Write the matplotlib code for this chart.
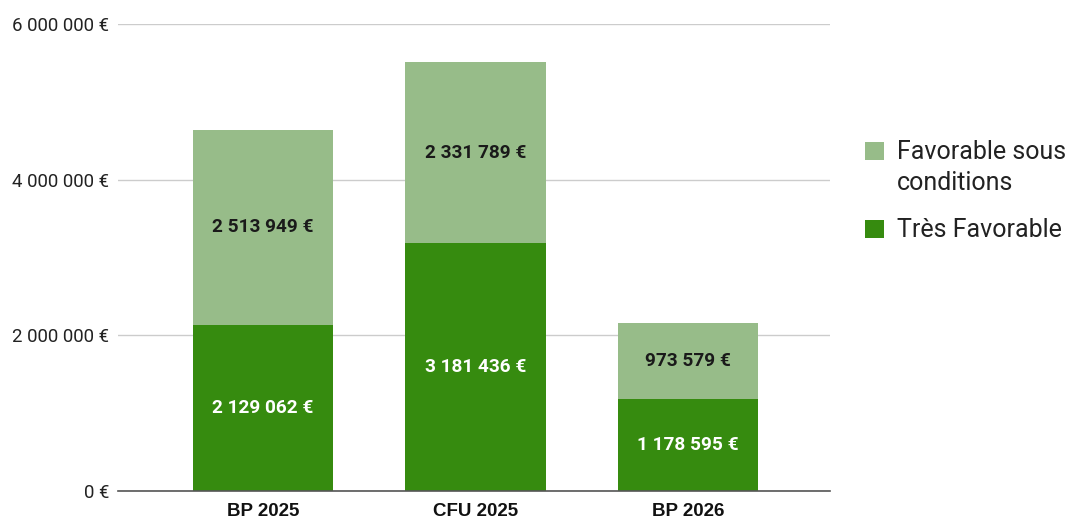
import matplotlib
matplotlib.use("Agg")
import matplotlib.pyplot as plt
from matplotlib.patches import Rectangle
from matplotlib.ticker import FuncFormatter

categories = ["BP 2025", "CFU 2025", "BP 2026"]
tres_favorable = [2129062, 3181436, 1178595]
favorable_sous_conditions = [2513949, 2331789, 973579]
yticks = [0, 2000000, 4000000, 6000000]
legend_labels = ["Favorable sous\nconditions", "Très Favorable"]

plt.rcParams['font.family'] = ['Roboto', 'DejaVu Sans']

dark = "#368B0F"
light = "#97BC89"

def fmt(v):
    return f"{v:,.0f}".replace(",", " ") + " €"

W, H = 1073, 520
fig = plt.figure(figsize=(W / 100, H / 100), dpi=100)
ax = fig.add_axes([0.110, 0.0558, 0.6635, 0.898])
x = list(range(len(categories)))
w = 0.66
ax.bar(x, tres_favorable, width=w, color=dark, zorder=3)
ax.bar(x, favorable_sous_conditions, width=w, bottom=tres_favorable, color=light, zorder=3)

for i in x:
    ax.text(i, tres_favorable[i] / 2, fmt(tres_favorable[i]), ha="center", va="center",
            color="white", fontsize=13.7, fontweight="bold", zorder=4)
    ax.text(i, tres_favorable[i] + favorable_sous_conditions[i] / 2, fmt(favorable_sous_conditions[i]),
            ha="center", va="center", color="#1a1a1a", fontsize=13.7, fontweight="bold", zorder=4)

ax.set_xlim(-0.68, 2.666)
ax.set_ylim(0, 6000000)
ax.set_yticks(yticks)
ax.yaxis.set_major_formatter(FuncFormatter(lambda v, p: fmt(v)))
ax.set_xticks(x)
ax.set_xticklabels(categories, fontweight="bold", fontsize=13.5,
                   family=["Liberation Sans", "DejaVu Sans"])
ax.tick_params(axis="y", labelsize=13.4, length=0, pad=6.5, labelcolor="#222222")
ax.tick_params(axis="x", length=0, pad=8.5, labelcolor="#111111")
ax.grid(axis="y", color="#cccccc", linewidth=1, zorder=0)
for s in ["top", "right", "left"]:
    ax.spines[s].set_visible(False)
ax.spines["bottom"].set_color("#555555")
ax.spines["bottom"].set_linewidth(1.2)
ax.spines["bottom"].set_zorder(5)

# legend: swatch aligned with the first line of each label
entries = [(light, legend_labels[0], 159), (dark, legend_labels[1], 237)]
for color, lab, baseline in entries:
    top = baseline - 17
    fig.patches.append(Rectangle((865 / W, 1 - (top + 18) / H), 19 / W, 18 / H,
                                 transform=fig.transFigure, facecolor=color,
                                 edgecolor="none"))
    for k, line in enumerate(lab.split("\n")):
        fig.text(897 / W, 1 - (baseline + 31 * k) / H, line, fontsize=18,
                 color="#222222", va="baseline", ha="left")

fig.savefig("out.png", dpi=100)
